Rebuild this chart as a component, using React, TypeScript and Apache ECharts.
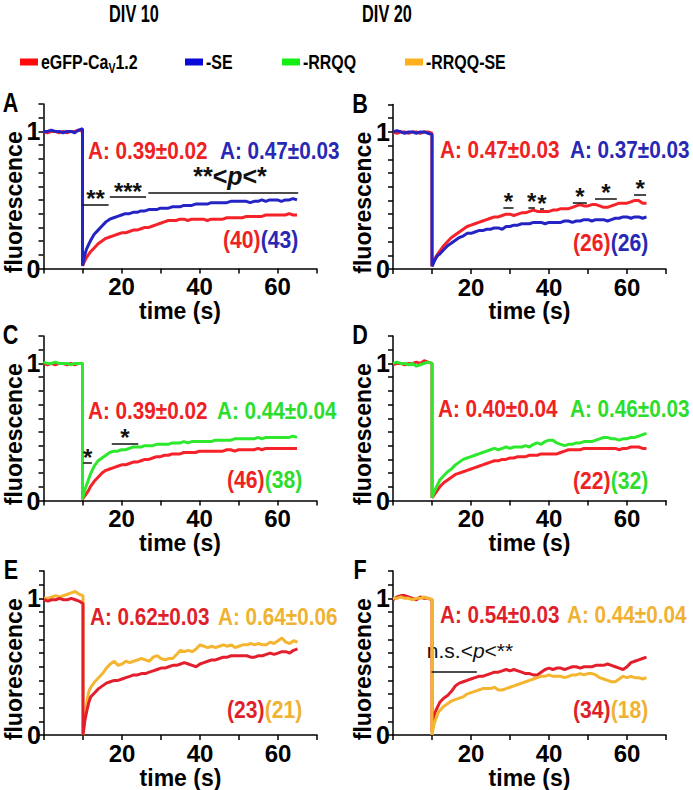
import React, { useEffect, useRef } from "react";
import * as echarts from "echarts";

// ---------------- data ----------------
const T = [
  0, 1, 2, 3, 4, 5, 6, 7, 8, 9, 10,
  10, 10.5, 11, 11.5,
  12, 13, 14, 15, 16, 17, 18, 19, 20, 21,
  22, 23, 24, 25, 26, 27, 28, 29, 30, 31,
  32, 33, 34, 35, 36, 37, 38, 39, 40, 41,
  42, 43, 44, 45, 46, 47, 48, 49, 50, 51,
  52, 53, 54, 55, 56, 57, 58, 59, 60, 61,
  62, 63, 64, 65,
];

const redA = [
  1.0, 0.99, 1.0, 1.0, 0.99, 1.0, 0.99, 1.0, 1.0, 1.01, 1.0,
  0.02, 0.05, 0.08, 0.1,
  0.12, 0.15, 0.18, 0.2, 0.22, 0.23, 0.24, 0.25, 0.26, 0.26,
  0.27, 0.28, 0.28, 0.29, 0.3, 0.3, 0.31, 0.32, 0.33, 0.34,
  0.35, 0.35, 0.35, 0.36, 0.36, 0.35, 0.36, 0.36, 0.36, 0.36,
  0.35, 0.36, 0.36, 0.36, 0.36, 0.37, 0.37, 0.37, 0.37, 0.37,
  0.38, 0.38, 0.38, 0.38, 0.38, 0.39, 0.39, 0.39, 0.39, 0.39,
  0.39, 0.4, 0.39, 0.39,
];
const blueA = [
  1.0, 1.0, 1.01, 1.0, 1.0, 0.99, 1.0, 1.0, 0.99, 1.01, 1.02,
  0.02, 0.09, 0.14, 0.17,
  0.2, 0.25, 0.28, 0.31, 0.34, 0.36, 0.37, 0.38, 0.39, 0.4,
  0.4, 0.41, 0.41, 0.42, 0.42, 0.43, 0.43, 0.43, 0.44, 0.44,
  0.44, 0.45, 0.45, 0.45, 0.46, 0.46, 0.46, 0.47, 0.47, 0.47,
  0.47, 0.48, 0.48, 0.48, 0.48, 0.48, 0.49, 0.49, 0.49, 0.49,
  0.49, 0.48, 0.49, 0.49, 0.5, 0.49, 0.5, 0.5, 0.5, 0.49,
  0.5, 0.5, 0.51, 0.5,
];
const redB = [
  1.0, 0.99, 1.0, 1.0, 0.99, 1.0, 1.0, 0.99, 1.0, 1.0, 0.99,
  0.02, 0.06, 0.09, 0.11,
  0.13, 0.17, 0.2, 0.23, 0.25, 0.27, 0.29, 0.31, 0.32, 0.33,
  0.34, 0.35, 0.36, 0.37, 0.38, 0.38, 0.39, 0.4, 0.4, 0.39,
  0.4, 0.41, 0.41, 0.42, 0.43, 0.42, 0.42, 0.42, 0.42, 0.43,
  0.43, 0.44, 0.44, 0.44, 0.45, 0.46, 0.47, 0.46, 0.46, 0.47,
  0.47, 0.46, 0.45, 0.45, 0.46, 0.47, 0.48, 0.48, 0.48, 0.49,
  0.5, 0.5, 0.48, 0.48,
];
const blueB = [
  1.0, 1.01, 1.0, 0.99, 1.0, 1.0, 0.99, 1.0, 1.0, 0.99, 0.98,
  0.02, 0.05, 0.08, 0.1,
  0.11, 0.14, 0.17, 0.19, 0.21, 0.23, 0.24, 0.26, 0.26, 0.27,
  0.28, 0.28, 0.29, 0.29, 0.3, 0.3, 0.29, 0.31, 0.31, 0.32,
  0.32, 0.33, 0.33, 0.33, 0.34, 0.34, 0.34, 0.33, 0.34, 0.34,
  0.34, 0.34, 0.35, 0.35, 0.34, 0.35, 0.35, 0.36, 0.36, 0.35,
  0.36, 0.36, 0.36, 0.35, 0.36, 0.37, 0.37, 0.38, 0.38, 0.37,
  0.38, 0.38, 0.37, 0.38,
];
const redC = [
  1.0, 0.99, 1.0, 0.99, 1.0, 1.0, 0.99, 1.0, 0.99, 1.0, 1.0,
  0.01, 0.03, 0.05, 0.07,
  0.1, 0.14, 0.17, 0.2, 0.22, 0.23, 0.24, 0.25, 0.26, 0.26,
  0.27, 0.28, 0.28, 0.29, 0.3, 0.3, 0.31, 0.32, 0.32, 0.33,
  0.33, 0.34, 0.34, 0.34, 0.35, 0.35, 0.35, 0.35, 0.36, 0.36,
  0.36, 0.36, 0.36, 0.36, 0.36, 0.37, 0.37, 0.36, 0.37, 0.37,
  0.37, 0.37, 0.37, 0.38, 0.37, 0.38, 0.38, 0.38, 0.38, 0.38,
  0.38, 0.38, 0.38, 0.38,
];
const greenC = [
  1.01, 1.0, 1.0, 1.01, 1.0, 1.0, 1.0, 0.99, 1.0, 1.0, 1.0,
  0.01, 0.07, 0.11, 0.15,
  0.19, 0.25, 0.29, 0.31, 0.33, 0.35, 0.36, 0.36, 0.37, 0.37,
  0.38, 0.39, 0.39, 0.39, 0.4, 0.4, 0.4, 0.41, 0.41, 0.41,
  0.41, 0.42, 0.42, 0.42, 0.43, 0.42, 0.43, 0.43, 0.43, 0.43,
  0.43, 0.43, 0.44, 0.44, 0.44, 0.44, 0.44, 0.45, 0.45, 0.45,
  0.45, 0.45, 0.45, 0.46, 0.45, 0.46, 0.46, 0.46, 0.46, 0.46,
  0.46, 0.46, 0.47, 0.46,
];
const redD = [
  0.99, 1.0, 1.0, 0.99, 1.0, 1.0, 1.01, 1.0, 1.02, 1.01, 1.0,
  0.02, 0.04, 0.06, 0.08,
  0.1, 0.13, 0.15, 0.17, 0.19, 0.2, 0.21, 0.22, 0.23, 0.24,
  0.25, 0.26, 0.27, 0.28, 0.29, 0.29, 0.3, 0.3, 0.31, 0.31,
  0.32, 0.32, 0.32, 0.33, 0.33, 0.33, 0.34, 0.34, 0.34, 0.34,
  0.34, 0.35, 0.36, 0.37, 0.37, 0.37, 0.37, 0.38, 0.38, 0.38,
  0.38, 0.38, 0.38, 0.38, 0.38, 0.38, 0.37, 0.38, 0.38, 0.39,
  0.39, 0.39, 0.38, 0.38,
];
const greenD = [
  1.0, 1.01, 1.0, 1.0, 0.99, 1.0, 0.98, 0.99, 1.0, 1.01, 1.0,
  0.02, 0.06, 0.09, 0.12,
  0.15, 0.18, 0.21, 0.23, 0.26, 0.28, 0.3, 0.31, 0.32, 0.33,
  0.34, 0.35, 0.36, 0.37, 0.38, 0.37, 0.38, 0.39, 0.38, 0.39,
  0.39, 0.39, 0.4, 0.39, 0.41, 0.42, 0.41, 0.43, 0.44, 0.44,
  0.42, 0.41, 0.4, 0.41, 0.41, 0.42, 0.42, 0.43, 0.43, 0.43,
  0.44, 0.45, 0.46, 0.46, 0.45, 0.45, 0.44, 0.45, 0.45, 0.46,
  0.46, 0.47, 0.48, 0.49,
];
const redE = [
  0.99, 0.98, 0.99, 0.99, 1.0, 0.99, 0.99, 1.0, 0.99, 0.98, 0.96,
  0.0, 0.11, 0.18, 0.24,
  0.28, 0.31, 0.34, 0.36, 0.38, 0.39, 0.4, 0.4, 0.41, 0.42,
  0.43, 0.44, 0.44, 0.45, 0.45, 0.46, 0.47, 0.48, 0.49, 0.49,
  0.5, 0.51, 0.51, 0.52, 0.53, 0.52, 0.51, 0.5, 0.52, 0.53,
  0.54, 0.55, 0.55, 0.56, 0.57, 0.57, 0.58, 0.58, 0.58, 0.58,
  0.58, 0.57, 0.57, 0.58, 0.58, 0.59, 0.6, 0.59, 0.6, 0.61,
  0.61, 0.6, 0.62, 0.63,
];
const orangeE = [
  1.0, 1.0, 1.01, 1.02, 1.01, 1.02, 1.03, 1.04, 1.05, 1.03, 1.02,
  0.0, 0.14, 0.24, 0.32,
  0.35, 0.39, 0.42, 0.45, 0.49, 0.52, 0.54, 0.51, 0.52, 0.54,
  0.53, 0.54, 0.55, 0.56, 0.55, 0.54, 0.57, 0.58, 0.56, 0.55,
  0.56, 0.56, 0.59, 0.62, 0.61, 0.62, 0.61, 0.63, 0.66, 0.65,
  0.64, 0.65, 0.64, 0.65, 0.66, 0.65, 0.66, 0.64, 0.65, 0.66,
  0.66, 0.67, 0.66, 0.67, 0.66, 0.66, 0.68, 0.67, 0.69, 0.71,
  0.68, 0.67, 0.69, 0.68,
];
const redF = [
  0.99, 1.01, 1.02, 1.02, 1.01, 1.0, 0.99, 1.01, 1.0, 1.0, 0.99,
  0.02, 0.14, 0.18, 0.21,
  0.24, 0.27, 0.29, 0.32, 0.36, 0.38, 0.39, 0.4, 0.41, 0.42,
  0.43, 0.43, 0.44, 0.45, 0.46, 0.46, 0.47, 0.48, 0.47, 0.48,
  0.47, 0.46, 0.45, 0.45, 0.44, 0.44, 0.46, 0.48, 0.49, 0.48,
  0.49, 0.49, 0.48, 0.49, 0.5, 0.5, 0.49, 0.5, 0.5, 0.5,
  0.51, 0.51, 0.51, 0.52, 0.51, 0.5, 0.49, 0.48, 0.5, 0.53,
  0.54, 0.55, 0.56, 0.57,
];
const orangeF = [
  1.0, 1.0, 1.01, 1.0, 1.0, 0.99, 1.0, 1.0, 1.01, 1.0, 0.99,
  0.0, 0.08, 0.12, 0.16,
  0.18, 0.21, 0.23, 0.25, 0.26, 0.27, 0.28, 0.3, 0.31, 0.32,
  0.33, 0.34, 0.34, 0.34, 0.35, 0.33, 0.33, 0.34, 0.35, 0.36,
  0.37, 0.38, 0.39, 0.4, 0.41, 0.42, 0.43, 0.43, 0.44, 0.43,
  0.43, 0.43, 0.42, 0.43, 0.44, 0.44, 0.45, 0.44, 0.45, 0.45,
  0.44, 0.42, 0.41, 0.4, 0.39, 0.39, 0.41, 0.43, 0.42, 0.43,
  0.42, 0.42, 0.41, 0.42,
];

// significance bars: [from (s), to (s), level, stars]
const sigA: [number, number, number, string][] = [
  [10, 16.7, 0.464, "**"],
  [17, 26.3, 0.52, "***"],
  [26.9, 65.3, 0.55, ""],
];
const sigB: [number, number, number, string][] = [
  [28.3, 30.9, 0.446, "*"],
  [34.7, 36.4, 0.446, "*"],
  [37.7, 38.7, 0.437, "*"],
  [46.1, 49.7, 0.483, "*"],
  [51.8, 57.4, 0.515, "*"],
  [61.8, 64.9, 0.54, "*"],
];
const sigC: [number, number, number, string][] = [
  [10.2, 12.4, 0.272, "*"],
  [17.5, 24.3, 0.417, "*"],
];
const sigF: [number, number, number, string][] = [[9.9, 21.5, 0.463, ""]];

const RED_NAME = "eGFP-CaV1.2";
const LEGEND_NAMES = [RED_NAME, "-SE", "-RRQQ", "-RRQQ-SE"];
const X_LABELS = [20, 40, 60];
const Y_LABELS = [0, 1];

const ampA = ["A: 0.39±0.02", "A: 0.47±0.03"];
const ampB = ["A: 0.47±0.03", "A: 0.37±0.03"];
const ampC = ["A: 0.39±0.02", "A: 0.44±0.04"];
const ampD = ["A: 0.40±0.04", "A: 0.46±0.03"];
const ampE = ["A: 0.62±0.03", "A: 0.64±0.06"];
const ampF = ["A: 0.54±0.03", "A: 0.44±0.04"];
const nA = ["(40)", "(43)"];
const nB = ["(26)", "(26)"];
const nC = ["(46)", "(38)"];
const nD = ["(22)", "(32)"];
const nE = ["(23)", "(21)"];
const nF = ["(34)", "(18)"];

// ---------------- styles ----------------
const SANS = "'Liberation Sans',Arial,sans-serif";
const C = {
  red: "#f5222a",
  red2: "#e41f2d",
  blue: "#2424c4",
  green: "#2ee82e",
  orange: "#f4b530",
  tRed: "#ee2222",
  tRed2: "#e01f2c",
  tBlue: "#2828b4",
  tGreen: "#2cdd2c",
  tOrange: "#f0b232",
};
const LEGEND_COLORS = ["#ff0a0a", "#0a0ad8", "#14ee14", "#ffb01a"];
const LEGEND_X = [20, 185, 282, 405];

type S = { name: string; data: number[]; color: string };
type Panel = {
  letter: string;
  left: number;
  top: number;
  series: S[];
  sig: [number, number, number, string][];
  amp: string[];
  n: string[];
  txtColors: string[];
  ampPos: [number, number, number];
  nPos: [number, number];
};

const W = 273;
const H = 164.5;

const panels: Panel[] = [
  {
    letter: "A", left: 43.5, top: 104,
    series: [
      { name: RED_NAME, data: redA, color: C.red },
      { name: "-SE", data: blueA, color: C.blue },
    ],
    sig: sigA, amp: ampA, n: nA, txtColors: [C.tRed, C.tBlue],
    ampPos: [88, 220, 151], nPos: [223, 240],
  },
  {
    letter: "B", left: 393, top: 104.5,
    series: [
      { name: RED_NAME, data: redB, color: C.red },
      { name: "-SE", data: blueB, color: C.blue },
    ],
    sig: sigB, amp: ampB, n: nB, txtColors: [C.tRed, C.tBlue],
    ampPos: [440, 570, 150], nPos: [573, 243],
  },
  {
    letter: "C", left: 43.5, top: 336,
    series: [
      { name: RED_NAME, data: redC, color: C.red },
      { name: "-RRQQ", data: greenC, color: C.green },
    ],
    sig: sigC, amp: ampC, n: nC, txtColors: [C.tRed, C.tGreen],
    ampPos: [88, 217, 411], nPos: [227, 480],
  },
  {
    letter: "D", left: 393, top: 336,
    series: [
      { name: RED_NAME, data: redD, color: C.red },
      { name: "-RRQQ", data: greenD, color: C.green },
    ],
    sig: [], amp: ampD, n: nD, txtColors: [C.tRed, C.tGreen],
    ampPos: [438, 570, 409], nPos: [573, 481],
  },
  {
    letter: "E", left: 44, top: 571,
    series: [
      { name: "-RRQQ-SE", data: orangeE, color: C.orange },
      { name: RED_NAME, data: redE, color: C.red2 },
    ],
    sig: [], amp: ampE, n: nE, txtColors: [C.tRed2, C.tOrange],
    ampPos: [90, 218, 617], nPos: [227, 710],
  },
  {
    letter: "F", left: 393, top: 571,
    series: [
      { name: RED_NAME, data: redF, color: C.red2 },
      { name: "-RRQQ-SE", data: orangeF, color: C.orange },
    ],
    sig: sigF, amp: ampF, n: nF, txtColors: [C.tRed2, C.tOrange],
    ampPos: [440, 567, 615], nPos: [573, 710],
  },
];

function bold(size: number, fill: string, extra: any = {}) {
  return { fontFamily: SANS, fontWeight: "bold", fontSize: size, fill, ...extra };
}

function buildOption() {
  const grid: any[] = [];
  const xAxis: any[] = [];
  const yAxis: any[] = [];
  const series: any[] = [];
  const graphic: any[] = [];

  const axisLine = { show: true, lineStyle: { color: "#000", width: 1.5 } };
  const axisTick = { show: true, length: 5, lineStyle: { color: "#000", width: 1.5 } };

  panels.forEach((p, i) => {
    grid.push({ left: p.left, top: p.top, width: W, height: H });
    xAxis.push({
      gridIndex: i, type: "value", min: 0, max: 70, interval: 10,
      axisLine, axisTick, splitLine: { show: false },
      axisLabel: {
        formatter: (v: number) => (X_LABELS.includes(Math.round(v)) ? String(Math.round(v)) : ""),
        fontFamily: SANS, fontWeight: "bold", fontSize: 24, color: "#000", margin: 6,
      },
      name: "time (s)", nameLocation: "middle", nameGap: 28,
      nameTextStyle: { fontFamily: SANS, fontWeight: "bold", fontSize: 23, color: "#000" },
    });
    yAxis.push({
      gridIndex: i, type: "value", min: 0, max: 1.2, interval: 0.1,
      axisLine, axisTick, splitLine: { show: false },
      axisLabel: {
        formatter: (v: number) => {
          const hit = Y_LABELS.find((l) => Math.abs(v - l) < 1e-6);
          return hit === undefined ? "" : String(hit);
        },
        fontFamily: SANS, fontWeight: "bold", fontSize: 25, color: "#000", margin: 3,
      },
    });
    p.series.forEach((s, k) => {
      const item: any = {
        type: "line", name: s.name, xAxisIndex: i, yAxisIndex: i,
        data: T.map((t, j) => [t, s.data[j]]),
        showSymbol: false, symbol: "none",
        lineStyle: { color: s.color, width: 3 },
        itemStyle: { color: s.color },
        z: 2 + k,
      };
      if (k === 0 && p.sig.length) {
        item.markLine = {
          silent: true, symbol: ["none", "none"],
          lineStyle: { color: "#111", width: 1.5, type: "solid" },
          label: {
            show: true, position: "middle", distance: -6,
            fontFamily: SANS, fontWeight: "bold", fontSize: 24, color: "#111",
            formatter: (pp: any) => pp.name,
          },
          data: p.sig.map((b) => [
            { coord: [b[0], b[2]], name: b[3] },
            { coord: [b[1], b[2]] },
          ]),
        };
      }
      series.push(item);
    });

    // panel letter
    graphic.push({
      type: "text", x: p.left - 33, y: p.top - 1, scaleX: 0.8,
      style: bold(27, "#000", { text: p.letter, textAlign: "center", textVerticalAlign: "middle" }),
    });
    // y axis name
    graphic.push({
      type: "text", x: p.left - 30, y: p.top + H / 2 + 16, rotation: Math.PI / 2,
      style: bold(23, "#000", { text: "fluorescence", textAlign: "center", textVerticalAlign: "middle" }),
    });
    // amplitudes
    graphic.push({
      type: "text", x: p.ampPos[0], y: p.ampPos[2], scaleX: 0.9,
      style: bold(23, p.txtColors[0], { text: p.amp[0], textVerticalAlign: "middle" }),
    });
    graphic.push({
      type: "text", x: p.ampPos[1], y: p.ampPos[2], scaleX: 0.9,
      style: bold(23, p.txtColors[1], { text: p.amp[1], textVerticalAlign: "middle" }),
    });
    // n counts
    graphic.push({
      type: "text", x: p.nPos[0], y: p.nPos[1], scaleX: 0.92,
      style: {
        text: `{a|${p.n[0]}}{b|${p.n[1]}}`,
        textVerticalAlign: "middle",
        rich: {
          a: { fontFamily: SANS, fontWeight: "bold", fontSize: 23, fill: p.txtColors[0] },
          b: { fontFamily: SANS, fontWeight: "bold", fontSize: 23, fill: p.txtColors[1] },
        },
      },
    });
  });

  // p-range labels
  graphic.push({
    type: "text", x: 230, y: 176,
    style: {
      text: "{a|**<}{p|p}{a|<*}", textAlign: "center", textVerticalAlign: "middle",
      rich: {
        a: { fontFamily: SANS, fontWeight: "bold", fontSize: 25, fill: "#111" },
        p: { fontFamily: SANS, fontWeight: "bold", fontStyle: "italic", fontSize: 25, fill: "#111" },
      },
    },
  });
  graphic.push({
    type: "text", x: 470, y: 650,
    style: {
      text: "{a|n.s.<}{p|p}{a|<**}", textAlign: "center", textVerticalAlign: "middle",
      rich: {
        a: { fontFamily: SANS, fontSize: 21, fill: "#111" },
        p: { fontFamily: SANS, fontStyle: "italic", fontSize: 21, fill: "#111" },
      },
    },
  });
  // column titles
  graphic.push({
    type: "text", x: 134, y: 13, scaleX: 0.68,
    style: bold(24, "#000", { text: "DIV 10", textAlign: "center", textVerticalAlign: "middle" }),
  });
  graphic.push({
    type: "text", x: 387, y: 13, scaleX: 0.68,
    style: bold(24, "#000", { text: "DIV 20", textAlign: "center", textVerticalAlign: "middle" }),
  });
  // legend (drawn as graphic so text can be condensed like the original)
  LEGEND_NAMES.forEach((name, k) => {
    graphic.push({
      type: "rect", shape: { x: LEGEND_X[k], y: 58.5, width: 18, height: 7 },
      style: { fill: LEGEND_COLORS[k] },
    });
    graphic.push({
      type: "text", x: LEGEND_X[k] + 21, y: 62, scaleX: 0.76,
      style: {
        text: name === RED_NAME ? "{n|eGFP-Ca}{s|V}{n|1.2}" : `{n|${name}}`,
        textVerticalAlign: "middle",
        rich: {
          n: { fontFamily: SANS, fontWeight: "bold", fontSize: 21, fill: "#000", lineHeight: 24 },
          s: { fontFamily: SANS, fontWeight: "bold", fontSize: 14, fill: "#000", padding: [12, 0, 0, 0], lineHeight: 14 },
        },
      },
    });
  });

  return {
    animation: false,
    backgroundColor: "#fff",
    grid, xAxis, yAxis, series, graphic,
  };
}

export default function App() {
  const ref = useRef<HTMLDivElement>(null);
  useEffect(() => {
    if (!ref.current) return;
    const chart = echarts.init(ref.current, undefined, { renderer: "svg" });
    chart.setOption(buildOption() as any);
    return () => chart.dispose();
  }, []);
  return (
    <div
      ref={ref}
      style={{ position: "fixed", left: 0, top: 0, width: 693, height: 790, background: "#fff" }}
    />
  );
}
